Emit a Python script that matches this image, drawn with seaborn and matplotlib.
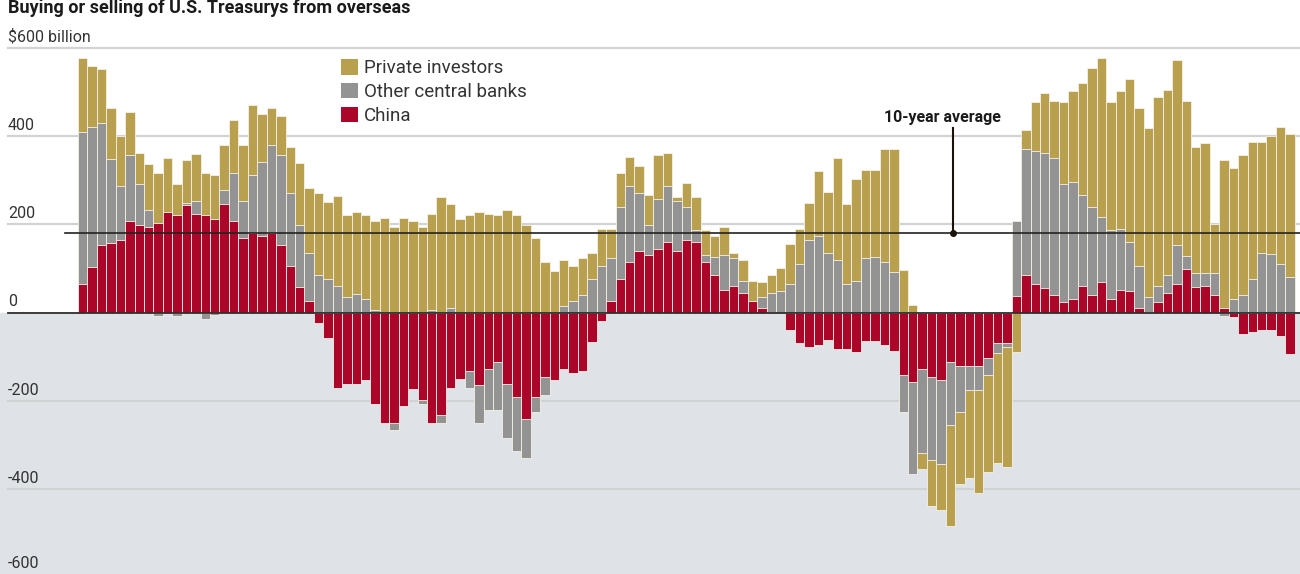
import numpy as np
import pandas as pd
import matplotlib
matplotlib.use("Agg")
import matplotlib.pyplot as plt
import seaborn as sns
from matplotlib.patches import Patch

# rolling net purchases, $ billion
china = [64, 103, 153, 157, 165, 208, 199, 195, 202, 228,
         220, 244, 223, 220, 211, 245, 207, 169, 181, 174,
         181, 153, 106, 57, 26, -24, -57, -170, -162, -162,
         -153, -208, -250, -250, -211, -174, -199, -250, -233, -170,
         -151, -132, -165, -128, -111, -162, -191, -241, -191, -145,
         -153, -128, -137, -132, -66, -19, 26, 77, 115, 140,
         131, 144, 161, 140, 165, 161, 115, 85, 52, 60,
         44, 26, 10, 1, 0, -40, -69, -78, -73, -61,
         -82, -82, -90, -65, -65, -73, -86, -141, -158, -128,
         -145, -153, -111, -120, -120, -120, -103, -69, -69, 38,
         85, 64, 56, 39, 23, 31, 60, 40, 69, 31,
         52, 48, 10, 2, 23, 44, 64, 98, 57, 60,
         40, 10, -11, -48, -43, -39, -39, -52, -94]
other = [344, 317, 276, 192, 121, 150, 92, 38, -7, 0,
         -7, 5, 30, -14, -5, 33, 109, 84, 131, 167,
         198, 205, 164, 141, 108, 85, 76, 60, 35, 43,
         30, 5, 0, -16, 0, 0, -8, 5, -17, 11,
         0, -38, -85, -92, -109, -121, -122, -88, -33, -42,
         0, 14, 26, 39, 77, 106, 97, 163, 171, 130,
         68, 113, 125, 113, 75, 25, 16, 42, 79, 63,
         28, 0, 25, 43, 48, 64, 110, 165, 173, 135,
         119, 64, 72, 123, 127, 115, 93, -83, -208, -189,
         -189, -189, -143, -105, -55, -55, -38, -22, -9, 170,
         286, 302, 306, 311, 268, 264, 206, 200, 147, 155,
         138, 113, 96, 33, 37, 41, 89, 30, 33, 30,
         50, -7, 31, 40, 77, 136, 132, 110, 81]
private = [168, 139, 122, 114, 114, 97, 71, 104, 114, 122,
           71, 97, 106, 96, 101, 101, 121, 126, 159, 109,
           84, 88, 104, 140, 148, 185, 174, 205, 185, 185,
           190, 202, 215, 194, 215, 207, 194, 218, 261, 234,
           211, 220, 228, 224, 220, 233, 220, 199, 169, 115,
           94, 106, 80, 84, 59, 84, 67, 76, 67, 63,
           67, 101, 76, 8, 54, 75, 55, 47, 63, 13,
           47, 46, 34, 41, 54, 92, 80, 84, 147, 139,
           231, 181, 231, 201, 197, 255, 277, 97, 18, -38,
           -104, -104, -230, -163, -200, -233, -221, -250, -272, -90,
           42, 110, 135, 129, 185, 206, 255, 315, 360, 290,
           311, 369, 357, 382, 428, 420, 419, 351, 284, 293,
           110, 335, 297, 318, 310, 251, 268, 311, 323]
ten_year_avg = 180

GOLD = "#b9a04f"
GRAY = "#939393"
RED = "#ab0529"

c = np.array(china)
o = np.array(other)
p = np.array(private)
df = pd.DataFrame({"period": np.arange(len(c))})
# positive and negative parts stacked separately, China nearest zero
df["pos_red"] = c.clip(min=0)
df["pos_gray"] = df["pos_red"] + o.clip(min=0)
df["pos_gold"] = df["pos_gray"] + p.clip(min=0)
df["neg_red"] = c.clip(max=0)
df["neg_gray"] = df["neg_red"] + o.clip(max=0)
df["neg_gold"] = df["neg_gray"] + p.clip(max=0)

plt.rcParams["font.family"] = ["Roboto", "DejaVu Sans"]

fig = plt.figure(figsize=(13, 5.74), dpi=100)
ax = fig.add_axes([0, 0, 1, 1])

for col, color in [("pos_gold", GOLD), ("pos_gray", GRAY), ("pos_red", RED),
                   ("neg_gold", GOLD), ("neg_gray", GRAY), ("neg_red", RED)]:
    sns.barplot(data=df, x="period", y=col, color=color, width=1, saturation=1,
                errorbar=None, edgecolor="#f4f1e8", linewidth=0.6, ax=ax, zorder=2)

ax.set_xlim(-8.77, 129.06)
ax.set_ylim(-592, 708)
ax.axis("off")

ax.axhspan(-800, 0, color="#dfe3e7", zorder=0)
for v in [600, 400, 200, -200, -400, -600]:
    ax.axhline(v, xmin=8 / 1300, color="#d0d2d4", lw=1.6, zorder=0.5)
ax.axhline(0, xmin=8 / 1300, color="#2e2e2e", lw=1.3, zorder=4)
ax.axhline(ten_year_avg, xmin=65 / 1300, color="#222222", lw=1.2, zorder=4)

ytr = ax.get_yaxis_transform()
labels = {600: "$600 billion", 400: "400", 200: "200", 0: "0",
          -200: "-200", -400: "-400", -600: "-600"}
for v, t in labels.items():
    y = v + 14 if v > -600 else v + 22
    ax.text(8 / 1300, y, t, transform=ytr, ha="left", va="baseline",
            fontsize=11.5, color="#333333")

# 10-year average callout
ax.plot([92.3, 92.3], [418, ten_year_avg], color="#1a1208", lw=1.5, zorder=5)
ax.plot([92.3], [ten_year_avg], "o", color="#1a1208", ms=4, zorder=5)
ax.text(91.2, 441, "10-year average", ha="center", va="center",
        fontsize=11.5, fontweight="bold", color="#1a1a1a")

handles = [Patch(facecolor=GOLD, label="Private investors"),
           Patch(facecolor=GRAY, label="Other central banks"),
           Patch(facecolor=RED, label="China")]
ax.legend(handles=handles, loc="upper left", bbox_to_anchor=(341 / 1300, 1 - 59 / 574),
          bbox_transform=fig.transFigure, frameon=False, fontsize=13.5,
          handlelength=0.9, handleheight=0.9, handletextpad=0.3,
          labelspacing=0.3, borderpad=0, borderaxespad=0, labelcolor="#333333")

fig.text(8 / 1300, 1 - 13 / 574, "Buying or selling of U.S. Treasurys from overseas",
         ha="left", va="baseline", fontsize=13, fontweight="bold", color="#1a1a1a")

fig.savefig("out.png", dpi=100)
